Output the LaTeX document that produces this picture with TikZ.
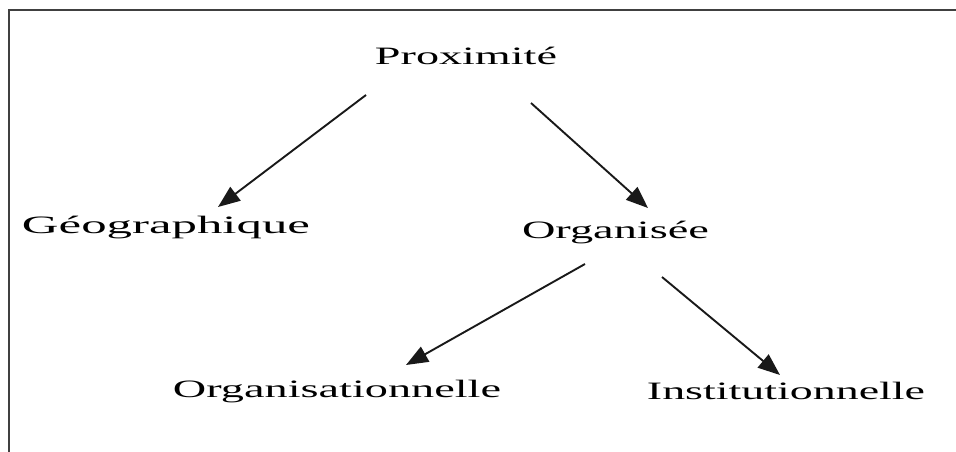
\documentclass[tikz,border=0pt]{standalone}
\usepackage{fontspec}
\setmainfont{Liberation Serif}
\usepackage{graphicx}
\usetikzlibrary{arrows.meta,calc}
\newcommand{\wtext}[2]{\resizebox{#1pt}{\height}{#2}}
\tikzset{
  lbl/.style={anchor=base, inner sep=0pt, font=\fontsize{25}{30}\selectfont},
  arr/.style={line width=1.9pt, black!90, -{Triangle[length=22pt,width=17pt]}},
  frame/.style={line width=2.8pt, black!75}
}
\begin{document}
\begin{tikzpicture}[x=1pt,y=-1pt]
\useasboundingbox (0,0) rectangle (956,452);
\draw[frame] (956,10) -- (9,10) -- (9,452);
\node[lbl] (prox) at (466,65) {\wtext{182}{Proximité}};
\node[lbl] (geo) at (166,233) {\wtext{288}{Géographique}};
\node[lbl] (org) at (615.5,238) {\wtext{187}{Organisée}};
\node[lbl] (orgl) at (337,397) {\wtext{328}{Organisationnelle}};
\node[lbl] (inst) at (786,399) {\wtext{278}{Institutionnelle}};
\draw[arr] ($(prox.base)+(-100,30)$) -- ($(geo.base)+(52,-26)$);
\draw[arr] ($(prox.base)+(65,38)$) -- ($(org.base)+(32.5,-30)$);
\draw[arr] ($(org.base)+(-30.5,26)$) -- ($(orgl.base)+(69,-32)$);
\draw[arr] ($(org.base)+(46.5,39)$) -- ($(inst.base)+(-6,-24)$);
\end{tikzpicture}
\end{document}
